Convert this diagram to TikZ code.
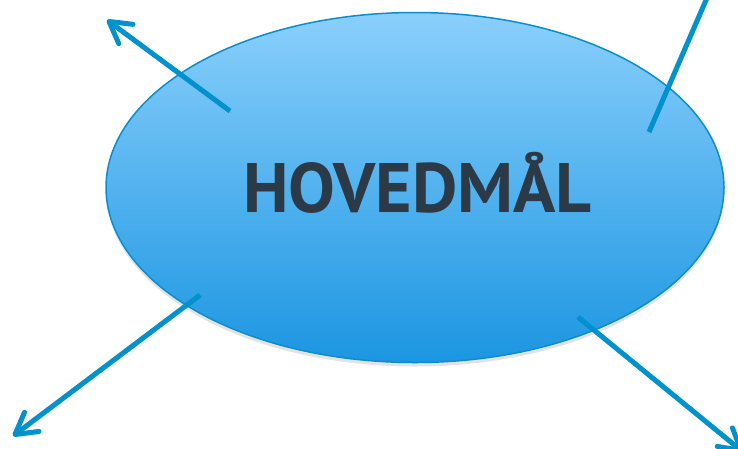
\documentclass[tikz,border=0pt]{standalone}
\usepackage{fontspec}
\setmainfont{PT Sans}
\usetikzlibrary{arrows.meta,shadows,shapes.geometric}
\definecolor{arrowblue}{RGB}{0,146,204}
\definecolor{rimblue}{RGB}{10,143,204}
\definecolor{topblue}{RGB}{138,207,252}
\definecolor{botblue}{RGB}{28,150,225}
\definecolor{textgray}{RGB}{44,58,71}
\begin{document}
\begin{tikzpicture}[x=1pt,y=-1pt,
  goalshape/.style={ellipse, draw=rimblue, line width=1.5pt,
    minimum width=618pt, minimum height=350pt, inner sep=0pt,
    top color=topblue, bottom color=botblue,
    drop shadow={shadow xshift=0pt,shadow yshift=-4pt,opacity=0.22},
    font=\fontsize{70}{72}\selectfont\bfseries, text=textgray,
    text height=49pt, text depth=0pt},
  outarrow/.style={draw=arrowblue, line width=5pt,
    -{Straight Barb[length=21pt,width=24pt,round]},
    preaction={draw=black, opacity=0.12, transform canvas={xshift=1.5pt,yshift=-2pt}}}]
\clip (0,0) rectangle (738,448);
\node[goalshape] (goal) at (415,187.5) {\hspace{5pt}HOVEDMÅL};
\coordinate (tlS) at (230,111); \coordinate (tlE) at (107,20);
\coordinate (trS) at (649,132); \coordinate (trE) at (719,-30);
\coordinate (blS) at (200,295); \coordinate (blE) at (13,436);
\coordinate (brS) at (578,317); \coordinate (brE) at (743,452);
\draw[outarrow] (tlS) -- (tlE);
\draw[outarrow] (trS) -- (trE);
\draw[outarrow] (blS) -- (blE);
\draw[outarrow] (brS) -- (brE);
\end{tikzpicture}
\end{document}
